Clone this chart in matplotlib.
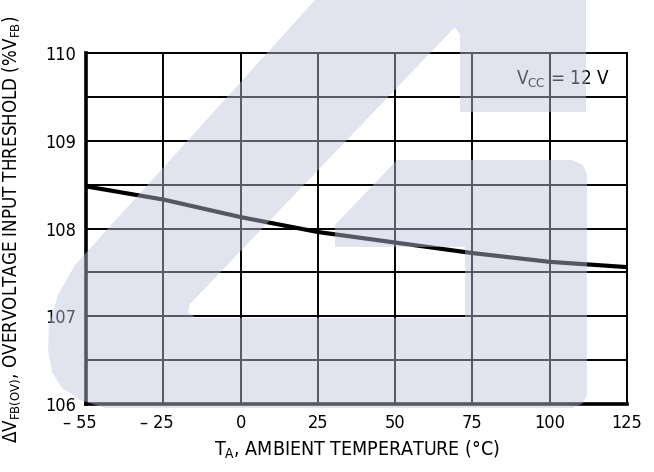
import numpy as np
import matplotlib
matplotlib.use("Agg")
import matplotlib.pyplot as plt
from matplotlib.patches import Polygon
from matplotlib.transforms import ScaledTranslation

# data
temp_ticks = [-55, -25, 0, 25, 50, 75, 100, 125]
temp_labels = ['\u2013 55', '\u2013 25', '0', '25', '50', '75', '100', '125']
temps = [-55, -25, 0, 25, 50, 75, 100, 125]
threshold = [108.48, 108.33, 108.13, 107.96, 107.84, 107.72, 107.62, 107.56]
y_ticks = [106, 107, 108, 109, 110]

plt.rcParams['font.family'] = ['DejaVu Sans']
plt.rcParams['font.stretch'] = 'condensed'
plt.rcParams['mathtext.fontset'] = 'custom'
plt.rcParams['mathtext.rm'] = 'DejaVu Sans:stretch=condensed'
plt.rcParams['mathtext.default'] = 'regular'

W, H = 654, 472
fig = plt.figure(figsize=(W / 100, H / 100), dpi=100)
ax = fig.add_axes([86 / W, 1 - 404 / H, 541 / W, 351 / H])
ax.set_facecolor('white')

# the x grid is evenly spaced even though -55 -> -25 is 30 degrees
pos_ticks = np.arange(len(temp_ticks))
xpos = np.interp(temps, temp_ticks, pos_ticks)

ax.plot(xpos, threshold, color='black', lw=3.0, solid_capstyle='butt', zorder=3)

ax.set_xlim(0, len(temp_ticks) - 1)
ax.set_ylim(106, 110)
ax.set_xticks(pos_ticks)
ax.set_xticklabels(temp_labels)
ax.set_yticks(y_ticks)
ax.set_yticks(np.arange(106.5, 110, 1), minor=True)
ax.tick_params(which='both', length=0, labelsize=13, colors='black')
ax.tick_params(axis='x', pad=7)
ax.tick_params(axis='y', pad=7)
ax.grid(which='both', color='black', lw=1.4)
ax.set_axisbelow(True)
for s in ['top', 'right']:
    ax.spines[s].set_linewidth(1.4)
for s in ['left', 'bottom']:
    ax.spines[s].set_linewidth(2.6)

# the minus-sign labels sit a little left of their grid line
shift = ScaledTranslation(-6 / 100, 0, fig.dpi_scale_trans)
for lab in ax.get_xticklabels()[:2]:
    lab.set_transform(lab.get_transform() + shift)

ax.set_xlabel(r'T$_{A}$, AMBIENT TEMPERATURE ($\degree$C)', fontsize=14, labelpad=5)
ax.set_ylabel(r'$\Delta$V$_{FB(OV)}$, OVERVOLTAGE INPUT THRESHOLD (%V$_{FB}$)',
              fontsize=13.4)
ax.yaxis.set_label_coords(-0.116, 0.499)

ax.text(0.968, 0.926, r'V$_{CC}$ = 12 V', transform=ax.transAxes,
        ha='right', va='center', fontsize=13.5)

# translucent logo watermark over the whole chart (pixel outline)
logo = [(315, 0), (586, 0), (586, 112), (460, 112), (460, 35), (455, 27),
        (190, 304), (188, 312), (196, 318), (465, 318), (465, 247),
        (335, 247), (335, 225), (397, 160), (572, 160), (583, 165),
        (587, 175), (587, 395), (582, 404), (572, 408), (105, 408),
        (80, 400), (62, 388), (52, 372), (48, 350), (49, 325), (58, 295),
        (75, 265)]
pts = [(x / W, 1 - y / H) for x, y in logo]
fig.patches.append(Polygon(pts, closed=True, transform=fig.transFigure,
                           facecolor=(0.74, 0.77, 0.86), alpha=0.45,
                           edgecolor='none', zorder=5))

fig.savefig('out.png', dpi=100)
